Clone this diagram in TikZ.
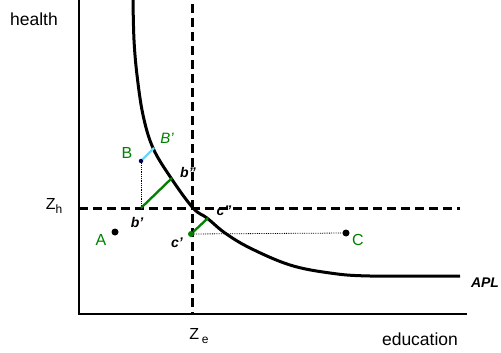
\documentclass[tikz,border=0pt]{standalone}
\usepackage{fontspec}
\setmainfont{Liberation Sans}
\usepackage{tikz}
\usetikzlibrary{positioning}

\definecolor{ptgreen}{RGB}{0,128,0}
\definecolor{ptcyan}{RGB}{110,210,250}

\newcommand{\subtxt}[1]{\raisebox{-4pt}{\fontsize{12}{13}\selectfont #1}}

\begin{document}
\begin{tikzpicture}[
        x=1pt, y=-1pt,
        axis/.style={line width=2.5pt},
        guide/.style={line width=3pt, dash pattern=on 9pt off 5pt},
        proj/.style={densely dotted, line width=0.8pt},
        move/.style={line width=2.3pt, ptgreen},
        dot/.style={circle, fill=black, inner sep=0pt, minimum size=7pt},
        biglabel/.style={font=\fontsize{17.5}{20}\selectfont},
        ptlabel/.style={font=\fontsize{16}{18}\selectfont, text=ptgreen},
        smalllabel/.style={font=\fontsize{14}{16}\selectfont\bfseries\itshape}
    ]
        \useasboundingbox (0,0) rectangle (501,353);

        % axes
        \coordinate (ytop) at (79,0);
        \coordinate (origin) at (79,314);
        \coordinate (xend) at (467,314);
        \draw[axis] (ytop) -- (origin) -- (xend);

        % thresholds
        \coordinate (zetop) at (192,4);
        \coordinate (zebot) at (192,313);
        \coordinate (zhleft) at (79,208);
        \coordinate (zhright) at (460,208);
        \draw[guide] (zetop) -- (zebot);
        \draw[guide] (zhleft) -- (zhright);

        % APL frontier
        \draw[line width=3pt] plot[smooth, tension=0.6] coordinates {
            (133,0) (134,40) (137,75) (143,115) (153,148) (171,178)
            (193,208) (207,218) (225,233) (250,248) (290,265) (330,273)
            (370,276) (460,276)};

        % points
        \node[dot] (A) at (115,232) {};
        \node[dot] (C) at (346,233) {};
        \node[circle, fill=black!70!blue, inner sep=0pt, minimum size=4.5pt] (B) at (141,161) {};
        \coordinate (Bp) at (154,148);
        \coordinate (bp) at (141,208);
        \coordinate (bpp) at (172,178);
        \node[circle, fill=ptgreen, inner sep=0pt, minimum size=6pt] (cp) at (191,234) {};
        \coordinate (cpp) at (208,218);

        \draw[proj] (B) -- (bp);
        \draw[proj] (cp) -- (C);
        \draw[line width=2.3pt, ptcyan] (B) -- (Bp);
        \draw[move] (bp) -- (bpp);
        \draw[move] (cp) -- (cpp);

        % labels
        \node[biglabel] (health) at (34,19) {health};
        \node[biglabel] (education) at (420,339) {education};
        \node[font=\fontsize{16}{18}\selectfont] (zh) at (54,206) {Z\subtxt{h}};
        \node[font=\fontsize{16}{18}\selectfont] (ze) at (199,336) {Z\,\subtxt{e}};
        \node[ptlabel] (labA) at (101,240) {A};
        \node[ptlabel] (labB) at (127,153) {B};
        \node[ptlabel] (labC) at (358,240) {C};
        \node[smalllabel, text=ptgreen, font=\fontsize{15}{17}\selectfont\itshape] (labBp) at (167,138) {B'};
        \node[smalllabel] (labbp) at (137,222) {b'};
        \node[smalllabel] (labbpp) at (188,172) {b''};
        \node[smalllabel] (labcp) at (177,243) {c'};
        \node[smalllabel] (labcpp) at (224,211) {c''};
        \node[smalllabel] (apl) at (485,283) {APL};
    \end{tikzpicture}
\end{document}
